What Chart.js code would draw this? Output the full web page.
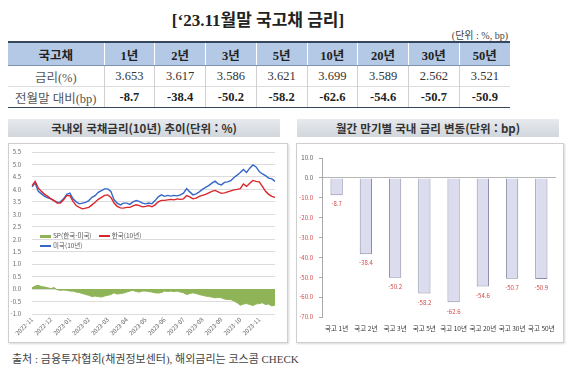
<!DOCTYPE html>
<html lang="ko">
<head>
<meta charset="utf-8">
<script src="https://cdn.jsdelivr.net/npm/chart.js@4"></script>
<style>
  body { margin: 0; width: 580px; height: 377px; background: #fff; position: relative; overflow: hidden;
         font-family: "Liberation Serif", "Noto Sans CJK KR", serif; color: #222; }
  .abs { position: absolute; }
  #title { left: 0; width: 516px; top: 6px; text-align: center; font-size: 17px; font-weight: bold; }
  #unit { right: 72px; top: 27px; font-size: 10px; color: #444; }
  #tbl { left: 8px; top: 41px; width: 502px; border-collapse: collapse; font-size: 12.5px; table-layout: fixed; }
  #tbl th { background: #b4c9e5; height: 22px; font-weight: bold; border-left: 1px solid #fff; border-top: 2px solid #34475c; border-bottom: 1px solid #7d93ad; padding: 0; }
  #tbl th:first-child { border-left: none; }
  #tbl td { text-align: center; height: 20px; padding: 0; border-left: 1px solid #d0d0d0; color: #333; }
  #tbl td:first-child { border-left: none; color: #555; }
  #tbl tr:last-child td { border-bottom: 1px solid #34475c; border-top: 1px solid #dcdcdc; font-weight: bold; color: #222; }
  #tbl tr:last-child td:first-child { font-weight: normal; color: #555; }
  .ptitle { top: 119px; height: 18px; line-height: 18px; text-align: center; font-family: "Noto Sans CJK KR", sans-serif;
            font-size: 11.5px; font-weight: bold; color: #333; background: linear-gradient(#e6e9ed, #d2d7dd); }
  .frame { top: 143px; height: 198px; border: 1px solid #cfcfcf; box-shadow: 1px 1px 2px #d8d8d8; }
  #lg { left: 40px; top: 230px; font-family: "Noto Sans CJK KR", sans-serif; font-size: 6.5px; color: #555; line-height: 10px; }
  .sw { display: inline-block; width: 11px; vertical-align: middle; margin-right: 2px; }
  #src { left: 12px; top: 350px; font-size: 11px; color: #444; }
</style>
</head>
<body>
<div id="title" class="abs">[‘23.11월말 국고채 금리]</div>
<div id="unit" class="abs">(단위 : %, bp)</div>
<table id="tbl" class="abs"></table>

<div class="ptitle abs" style="left:8px;width:272px">국내외 국채금리(10년) 추이(단위 : %)</div>
<div class="frame abs" style="left:8px;width:278px"></div>
<canvas id="c1" class="abs" width="279" height="206" style="left:8px;top:137px"></canvas>
<div id="lg" class="abs">
  <div><span class="sw" style="height:3px;background:#8fb457"></span>SP(한국-미국)&nbsp;&nbsp;&nbsp;&nbsp;<span class="sw" style="height:2px;background:#d9262b"></span>한국(10년)</div>
  <div><span class="sw" style="height:2px;background:#3468c8"></span>미국(10년)</div>
</div>

<div class="ptitle abs" style="left:297px;width:262px">월간 만기별 국내 금리 변동(단위 : bp)</div>
<div class="frame abs" style="left:296px;width:266px"></div>
<canvas id="c2" class="abs" width="267" height="200" style="left:296px;top:143px"></canvas>

<div id="src" class="abs">출처 : 금융투자협회(채권정보센터), 해외금리는 코스콤 CHECK</div>

<script>
// table + bar chart data
const maturities = ['1년', '2년', '3년', '5년', '10년', '20년', '30년', '50년'];
const yields = [3.653, 3.617, 3.586, 3.621, 3.699, 3.589, 2.562, 3.521];
const changes = [-8.7, -38.4, -50.2, -58.2, -62.6, -54.6, -50.7, -50.9];

// line chart data, six readings per month from 2022-11 to 2023-11
const months = ['2022-11', '2022-12', '2023-01', '2023-02', '2023-03', '2023-04', '2023-05',
                '2023-06', '2023-07', '2023-08', '2023-09', '2023-10', '2023-11'];
const krRate = [
  4.15, 4.32, 4.05, 3.92, 3.80, 3.72,
  3.62, 3.55, 3.45, 3.45, 3.58, 3.75,
  3.75, 3.52, 3.35, 3.28, 3.22, 3.25,
  3.28, 3.38, 3.48, 3.60, 3.68, 3.76,
  3.78, 3.68, 3.45, 3.32, 3.26, 3.25,
  3.28, 3.28, 3.34, 3.38, 3.35, 3.30,
  3.32, 3.35, 3.30, 3.38, 3.50, 3.56,
  3.56, 3.58, 3.60, 3.58, 3.62, 3.60,
  3.62, 3.75, 3.70, 3.62, 3.65, 3.72,
  3.76, 3.80, 3.86, 3.92, 3.96, 3.90,
  3.84, 3.86, 3.90, 3.94, 3.98, 4.00,
  4.03, 4.22, 4.12, 4.25, 4.36, 4.32,
  4.30, 4.12, 3.92, 3.80, 3.72, 3.68
];
const usRate = [
  4.10, 4.25, 3.92, 3.82, 3.72, 3.66,
  3.62, 3.55, 3.48, 3.50, 3.62, 3.80,
  3.85, 3.62, 3.50, 3.42, 3.45, 3.48,
  3.55, 3.68, 3.75, 3.88, 3.95, 4.02,
  4.02, 3.92, 3.58, 3.45, 3.38, 3.45,
  3.45, 3.40, 3.50, 3.55, 3.52, 3.45,
  3.42, 3.45, 3.42, 3.55, 3.70, 3.78,
  3.72, 3.76, 3.73, 3.76, 3.74, 3.78,
  3.85, 4.03, 3.90, 3.78, 3.82, 3.90,
  4.00, 4.08, 4.15, 4.25, 4.33, 4.22,
  4.18, 4.28, 4.30, 4.35, 4.48, 4.57,
  4.68, 4.80, 4.68, 4.85, 4.98, 4.90,
  4.72, 4.62, 4.55, 4.45, 4.42, 4.32
];
const spread = [
  0.05, 0.12, 0.15, 0.10, 0.08, 0.05,
  0.02, 0.06, -0.03, -0.05, -0.04, -0.05,
  -0.08, -0.08, -0.12, -0.14, -0.18, -0.22,
  -0.25, -0.30, -0.28, -0.30, -0.32, -0.28,
  -0.25, -0.22, -0.15, -0.20, -0.18, -0.16,
  -0.12, -0.08, -0.05, -0.10, -0.12, -0.08,
  -0.08, -0.10, -0.12, -0.15, -0.16, -0.14,
  -0.08, -0.10, -0.08, -0.10, -0.08, -0.12,
  -0.15, -0.22, -0.18, -0.15, -0.18, -0.22,
  -0.25, -0.28, -0.30, -0.32, -0.35, -0.33,
  -0.35, -0.40, -0.42, -0.42, -0.48, -0.55,
  -0.65, -0.60, -0.58, -0.62, -0.66, -0.60,
  -0.58, -0.55, -0.62, -0.60, -0.68, -0.64
];

const PER_MONTH = 6;
const sansFont = '"Noto Sans CJK KR", sans-serif';

// build the table
const tbl = document.getElementById('tbl');
tbl.innerHTML =
  '<colgroup><col style="width:96px">' + maturities.map(() => '<col>').join('') + '</colgroup>' +
  '<tr><th>국고채</th>' + maturities.map(m => `<th>${m}</th>`).join('') + '</tr>' +
  '<tr><td>금리(%)</td>' + yields.map(v => `<td>${v.toFixed(3)}</td>`).join('') + '</tr>' +
  '<tr><td>전월말 대비(bp)</td>' + changes.map(v => `<td>${v.toFixed(1)}</td>`).join('') + '</tr>';

// line chart: x labels only at the first reading of each month
const pointLabels = krRate.map((_, i) => i % PER_MONTH === 0 ? months[i / PER_MONTH] : '');

new Chart(document.getElementById('c1'), {
  type: 'line',
  data: {
    labels: pointLabels,
    datasets: [
      { label: 'SP(한국-미국)', data: spread, borderColor: '#8fb457', backgroundColor: '#8fb457',
        borderWidth: 1, fill: 'origin', pointRadius: 0, tension: 0 },
      { label: '한국(10년)', data: krRate, borderColor: '#d9262b', borderWidth: 1.4, fill: false, pointRadius: 0, tension: 0 },
      { label: '미국(10년)', data: usRate, borderColor: '#3468c8', borderWidth: 1.4, fill: false, pointRadius: 0, tension: 0 }
    ]
  },
  options: {
    responsive: false,
    animation: false,
    devicePixelRatio: 1,
    layout: { padding: { left: 2, right: 12, top: 15, bottom: 0 } },
    plugins: { legend: { display: false }, tooltip: { enabled: false } },
    scales: {
      y: {
        min: -1, max: 5.5,
        ticks: { stepSize: 0.5, callback: v => v.toFixed(1), font: { size: 6, family: sansFont }, color: '#666', padding: 11 },
        grid: { color: '#dcdcdc', drawTicks: false },
        border: { display: false },
        afterFit: s => { s.width = 22; }
      },
      x: {
        ticks: { autoSkip: false, maxRotation: 45, minRotation: 45, font: { size: 6, family: sansFont }, color: '#666', padding: 2 },
        grid: { display: false, drawTicks: false },
        border: { display: false },
        afterFit: s => { s.height = 29; }
      }
    }
  }
});

// bar chart with value labels under each bar
const barValueLabels = {
  id: 'barValueLabels',
  afterDatasetsDraw(chart) {
    const ctx = chart.ctx;
    const meta = chart.getDatasetMeta(0);
    ctx.save();
    ctx.fillStyle = '#d04545';
    ctx.font = '6px ' + sansFont;
    ctx.textAlign = 'center';
    ctx.textBaseline = 'middle';
    meta.data.forEach((bar, i) => {
      ctx.fillText(changes[i].toFixed(1), bar.x, bar.y + 9);
    });
    ctx.restore();
  }
};

new Chart(document.getElementById('c2'), {
  type: 'bar',
  data: {
    labels: maturities.map(m => '국고 ' + m),
    datasets: [{
      data: changes,
      backgroundColor: '#dcdcef',
      borderColor: '#8e8eab',
      borderWidth: 1,
      barPercentage: 0.42,
      categoryPercentage: 1
    }]
  },
  options: {
    responsive: false,
    animation: false,
    devicePixelRatio: 1,
    layout: { padding: { left: 2, right: 6, top: 15, bottom: 0 } },
    plugins: { legend: { display: false }, tooltip: { enabled: false } },
    scales: {
      y: {
        min: -70, max: 10,
        ticks: { stepSize: 10, callback: v => v.toFixed(1), font: { size: 6, family: sansFont },
                 color: c => c.tick.value < 0 ? '#d04545' : '#555', padding: 6 },
        grid: { color: c => c.tick.value === 0 ? '#b5b5b5' : 'rgba(0,0,0,0)', tickColor: '#aaa', tickLength: 3 },
        border: { display: true, color: '#aaa' },
        afterFit: s => { s.width = 24; }
      },
      x: {
        ticks: { autoSkip: false, maxRotation: 0, font: { size: 6.5, family: sansFont }, color: '#333', padding: 8 },
        grid: { display: false, drawTicks: false },
        border: { display: false },
        afterFit: s => { s.height = 26; }
      }
    }
  },
  plugins: [barValueLabels]
});
</script>
</body>
</html>
